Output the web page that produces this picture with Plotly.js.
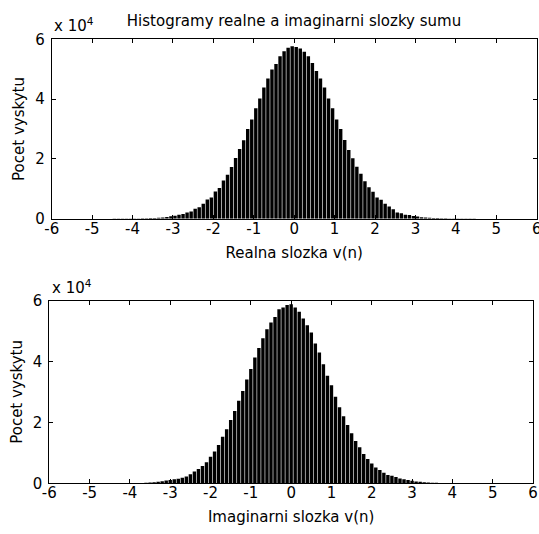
<!DOCTYPE html>
<html>
<head>
<meta charset="utf-8">
<script src="https://cdn.plot.ly/plotly-3.0.1.min.js"></script>
<style>html,body{margin:0;padding:0;background:#fff;}#chart{width:539px;height:534px;}</style>
</head>
<body>
<div id="chart"></div>
<script>
// ---- data (counts per histogram bin) ----
var chartTitle = 'Histogramy realne a imaginarni slozky sumu';
var xTitleTop = 'Realna slozka v(n)';
var xTitleBottom = 'Imaginarni slozka v(n)';
var yTitle = 'Pocet vyskytu';

// top histogram: first bin centre and bin width
var realBinStart = -5.15;
var realBinWidth = 0.1;
var realCounts = [
  20, 0, 0, 0, 10, 20, 20, 30, 30, 40,
  50, 60, 80, 100, 120, 150, 200, 250, 300, 400,
  600, 800, 1000, 1300, 1600, 2100, 2400, 3300, 3800, 5000,
  6400, 7100, 9100, 10300, 12800, 14700, 17300, 20300, 23300, 26200,
  30000, 33200, 36900, 40200, 43900, 46900, 49900, 51700, 54300, 56000,
  57200, 57700, 57400, 56900, 55800, 54300, 52100, 49400, 46900, 43900,
  40200, 36900, 33200, 30000, 26300, 23000, 20200, 17400, 15000, 12500,
  10500, 9000, 7100, 6300, 5000, 4100, 3200, 2100, 1800, 1300,
  1200, 900, 700, 500, 400, 300, 250, 200, 150, 120,
  100, 80, 60, 50, 40, 30, 30, 20, 20, 10
];

// bottom histogram
var imagBinStart = -5.4;
var imagBinWidth = 0.1;
var imagCounts = [
  20, 0, 0, 0, 0, 0, 0, 10, 10, 20,
  20, 30, 40, 50, 60, 80, 100, 130, 180, 250,
  350, 500, 700, 900, 1100, 1300, 1500, 1800, 2200, 3000,
  3900, 4700, 5700, 6900, 8700, 10400, 12600, 15300, 17700, 20800,
  23700, 27100, 30300, 34100, 37500, 41300, 44400, 47600, 50600, 52800,
  54600, 57100, 57700, 58500, 58800, 57700, 56300, 54100, 51900, 49500,
  45900, 42900, 39100, 35300, 32200, 28400, 25000, 22000, 19100, 16400,
  13900, 11800, 9600, 8000, 6500, 5200, 4400, 3500, 2700, 2500,
  2100, 1600, 1300, 1100, 800, 600, 500, 350, 300, 200,
  150, 120, 100, 80, 60, 50, 40, 30, 20, 20
];

var xTickVals = [-6, -5, -4, -3, -2, -1, 0, 1, 2, 3, 4, 5, 6];
var xTickText = ['-6', '-5', '-4', '-3', '-2', '-1', '0', '1', '2', '3', '4', '5', '6'];
var yTickVals = [0, 20000, 40000, 60000];
var yTickText = ['0', '2', '4', '6'];
var yExponentLabel = 'x 10<sup>4</sup>';

// ---- styling ----
var W = 539, H = 534;
var FONT = {family: 'DejaVu Sans, Arial, sans-serif', size: 15, color: '#000'};

function px2x(p) { return p / W; }
function px2y(p) { return 1 - p / H; }

var traces = [
  {type: 'bar', x0: realBinStart, dx: realBinWidth, y: realCounts,
   marker: {color: '#000', line: {width: 0}}, xaxis: 'x', yaxis: 'y',
   hoverinfo: 'x+y', showlegend: false},
  {type: 'bar', x0: imagBinStart, dx: imagBinWidth, y: imagCounts,
   marker: {color: '#000', line: {width: 0}}, xaxis: 'x2', yaxis: 'y2',
   hoverinfo: 'x+y', showlegend: false}
];

function xAxis(domain, title, anchor) {
  return {
    domain: domain, anchor: anchor, range: [-6, 6], autorange: false,
    tickmode: 'array', tickvals: xTickVals, ticktext: xTickText,
    ticks: 'inside', ticklen: 4, tickwidth: 1, tickcolor: '#000',
    ticklabelstandoff: -4, ticklabeloverflow: 'allow',
    showline: true, linecolor: '#000', linewidth: 1, mirror: 'ticks',
    showgrid: false, zeroline: false, automargin: false,
    tickfont: FONT,
    title: {text: title, font: FONT, standoff: 10}
  };
}
function yAxis(domain, anchor) {
  return {
    domain: domain, anchor: anchor, range: [0, 60000], autorange: false,
    tickmode: 'array', tickvals: yTickVals, ticktext: yTickText,
    ticks: 'inside', ticklen: 4, tickwidth: 1, tickcolor: '#000',
    ticklabelstandoff: 3,
    showline: true, linecolor: '#000', linewidth: 1, mirror: 'ticks',
    showgrid: false, zeroline: false, automargin: false,
    tickfont: FONT,
    title: {text: yTitle, font: FONT, standoff: 6}
  };
}

var layout = {
  width: W, height: H,
  margin: {l: 0, r: 0, t: 0, b: 0},
  paper_bgcolor: '#fff', plot_bgcolor: '#fff',
  font: FONT,
  bargap: 0.15,
  showlegend: false,
  title: {text: chartTitle, font: FONT, x: px2x(294), xanchor: 'center',
          y: px2y(21), yanchor: 'middle', xref: 'paper', yref: 'container'},
  xaxis: xAxis([px2x(51.7), px2x(536.7)], xTitleTop, 'y'),
  yaxis: yAxis([px2y(218.7), px2y(39.3)], 'x'),
  xaxis2: xAxis([px2x(49.3), px2x(533)], xTitleBottom, 'y2'),
  yaxis2: yAxis([px2y(483.3), px2y(300.5)], 'x2'),
  annotations: [
    {text: yExponentLabel, xref: 'paper', yref: 'paper', x: px2x(52), y: px2y(39.3),
     xanchor: 'left', yanchor: 'bottom', showarrow: false, font: FONT, yshift: 2},
    {text: yExponentLabel, xref: 'paper', yref: 'paper', x: px2x(49.5), y: px2y(300.5),
     xanchor: 'left', yanchor: 'bottom', showarrow: false, font: FONT, yshift: 2}
  ]
};

Plotly.newPlot('chart', traces, layout, {displayModeBar: false, staticPlot: true});
</script>
</body>
</html>
